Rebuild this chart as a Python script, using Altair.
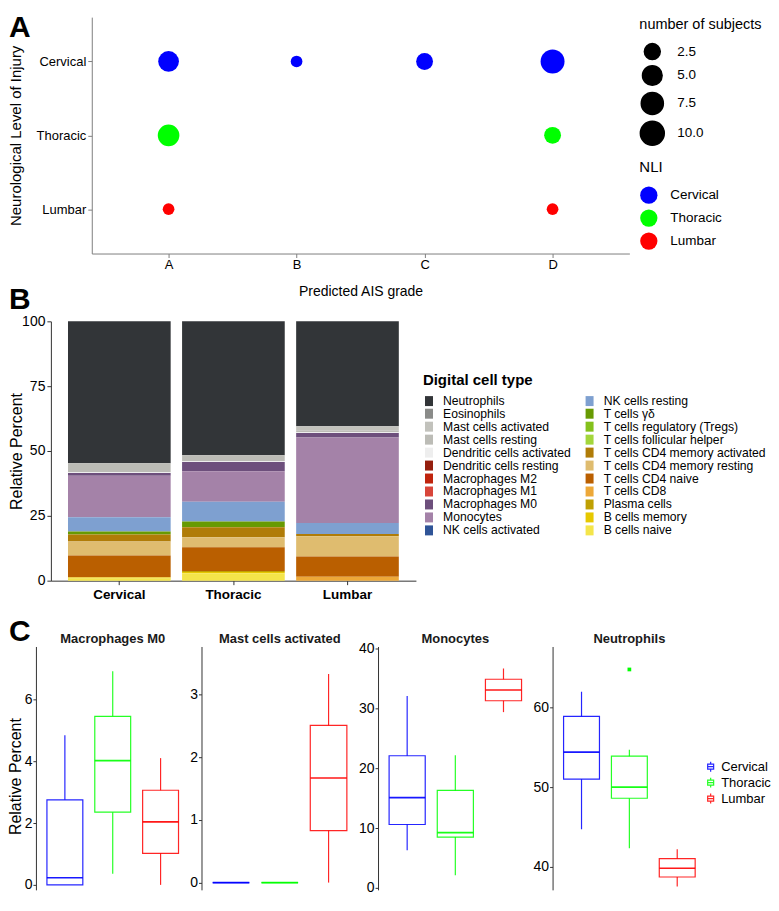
import altair as alt
import pandas as pd

FONT = "Liberation Sans"

# ---------------- Panel A : bubble chart ----------------
nli_levels = ["Cervical", "Thoracic", "Lumbar"]
nli_colors = ["#0000FF", "#00FF00", "#FF0000"]
ais_grades = ["A", "B", "C", "D"]
bubble_nli = ["Cervical", "Cervical", "Cervical", "Cervical", "Thoracic", "Thoracic", "Lumbar", "Lumbar"]
bubble_ais = ["A", "B", "C", "D", "A", "D", "A", "D"]
bubble_n = [6, 1, 3, 10, 7, 3, 1, 1]
size_breaks = [2.5, 5.0, 7.5, 10.0]

# ---------------- Panel B : stacked composition ----------------
cell_types = [
    "Neutrophils", "Eosinophils", "Mast cells activated", "Mast cells resting",
    "Dendritic cells activated", "Dendritic cells resting", "Macrophages M2",
    "Macrophages M1", "Macrophages M0", "Monocytes", "NK cells activated",
    "NK cells resting", "T cells γδ", "T cells regulatory (Tregs)",
    "T cells follicular helper", "T cells CD4 memory activated",
    "T cells CD4 memory resting", "T cells CD4 naive", "T cells CD8",
    "Plasma cells", "B cells memory", "B cells naive",
]
cell_colors = [
    "#323538", "#8a8b89", "#c2c2bc", "#bcbcb6", "#eeeeee", "#951f0e", "#c0240d",
    "#d8453a", "#6d4f7c", "#a482a8", "#2f5497", "#7ea0d0", "#679a02", "#84c11c",
    "#a3d63b", "#b07c07", "#dfbc6f", "#ba5f00", "#eda838", "#bfa003", "#e6c800",
    "#f4e54a",
]
pct_cervical = [54.7, 0, 0, 3.5, 0.3, 0, 0, 0, 1.0, 16.0, 0, 5.5, 1.2, 0, 0, 2.7, 5.4, 8.3, 0.2, 0, 0.4, 0.8]
pct_thoracic = [51.6, 0, 0, 2.3, 0.3, 0, 0, 0, 3.6, 11.8, 0, 7.6, 2.2, 0, 0, 3.9, 3.8, 9.2, 0, 0.4, 0.4, 2.9]
pct_lumbar = [40.5, 0, 1.7, 0.6, 0.3, 0, 0, 0, 1.7, 33.0, 0, 4.2, 0, 0, 0, 0.9, 7.8, 7.8, 1.5, 0, 0, 0]
pct_ticks = [0, 25, 50, 75, 100]

# ---------------- Panel C : box plots (Cervical, Thoracic, Lumbar) ----------------
box_groups = ["Cervical", "Thoracic", "Lumbar"]
m0_stats = {"lo": [0.0, 0.36, 0.0], "q1": [0.0, 2.35, 1.02], "med": [0.23, 4.02, 2.04],
            "q3": [2.75, 5.45, 3.06], "hi": [4.84, 6.91, 4.10]}
mast_stats = {"lo": [0.0, 0.0, 0.0], "q1": [0.0, 0.0, 0.83], "med": [0.0, 0.0, 1.67],
              "q3": [0.0, 0.0, 2.51], "hi": [0.0, 0.0, 3.33]}
mono_stats = {"lo": [6.3, 2.1, 29.4], "q1": [10.6, 8.5, 31.3], "med": [15.1, 9.25, 33.1],
              "q3": [22.1, 16.3, 34.9], "hi": [32.1, 22.2, 36.7]}
neut_stats = {"lo": [44.7, 42.3, 37.5], "q1": [51.0, 48.6, 38.7], "med": [54.4, 50.0, 39.8],
              "q3": [58.9, 53.9, 41.0], "hi": [62.0, 54.7, 42.2]}
neut_outlier_group = ["Thoracic"]
neut_outlier_value = [64.8]


def letter(ch, y):
    return alt.Chart(pd.DataFrame({"letter": [ch]})).mark_text(
        align="left", baseline="top", fontSize=30, fontWeight="bold", font=FONT, color="black"
    ).encode(text="letter:N", x=alt.value(-27), y=alt.value(y))


# invisible spacer that keeps a little room above the first letter
top_pad = alt.Chart(pd.DataFrame({"k": [0]})).mark_rule(strokeOpacity=0).encode(
    x=alt.value(-27), y=alt.value(-8), y2=alt.value(-7))

# ---------------- Row A ----------------
dfA = pd.DataFrame({"nli": bubble_nli, "ais": bubble_ais, "n": bubble_n})
bubbles = alt.Chart(dfA).mark_circle(opacity=1).encode(
    x=alt.X("ais:N", scale=alt.Scale(type="point", domain=ais_grades, padding=0.6, range=[56, 595]),
            axis=alt.Axis(title="Predicted AIS grade", labelAngle=0, labelFontSize=13,
                          titleFontSize=14, tickSize=4, labelPadding=1,
                          titleY=31, titleBaseline="top", titleX=325.5,
                          domainColor="#808080", tickColor="#808080")),
    y=alt.Y("nli:N", scale=alt.Scale(type="point", domain=nli_levels, padding=0.6),
            axis=alt.Axis(title="Neurological Level of Injury", labelFontSize=13,
                          titleFontSize=15, tickSize=4, labelPadding=2, offset=-56,
                          titleX=-68, titleY=118.5,
                          domainColor="#808080", tickColor="#808080")),
    size=alt.Size("n:Q", scale=alt.Scale(type="sqrt", domain=[1, 10], range=[137, 576], zero=False),
                  legend=alt.Legend(title="number of subjects", values=size_breaks, format=".1f",
                                    orient="none", legendX=605, legendY=1,
                                    symbolFillColor="black", symbolStrokeColor="black",
                                    symbolOpacity=1, titleFontSize=14.5, titleFontWeight="normal",
                                    labelFontSize=13.5, titlePadding=10, rowPadding=0,
                                    labelOffset=12)),
    color=alt.Color("nli:N", scale=alt.Scale(domain=nli_levels, range=nli_colors),
                    legend=alt.Legend(title="NLI", orient="none", legendX=605, legendY=143.5,
                                      symbolType="circle", symbolSize=300, symbolOpacity=1,
                                      titleFontSize=15, titleFontWeight="normal",
                                      labelFontSize=13.5, titlePadding=10.5, rowPadding=4,
                                      labelOffset=12)),
)
rowA = alt.layer(bubbles, top_pad, letter("A", -4)).properties(width=595, height=237)

# ---------------- Row B ----------------
recs = []
for region, vals in zip(nli_levels, [pct_cervical, pct_thoracic, pct_lumbar]):
    for i, (ct, v) in enumerate(zip(cell_types, vals)):
        recs.append({"region": region, "cell": ct, "pct": v, "rank": len(cell_types) - i})
dfB = pd.DataFrame(recs)

bars = alt.Chart(dfB).mark_bar().encode(
    x=alt.X("region:N", scale=alt.Scale(domain=nli_levels, paddingInner=0.1, paddingOuter=0.15,
                                        range=[15, 381]),
            axis=alt.Axis(title=None, labelAngle=0, labelFontWeight="bold", labelFontSize=13.5,
                          tickSize=4, labelPadding=3, domainColor="#333333", tickColor="#333333")),
    y=alt.Y("pct:Q", stack="zero", scale=alt.Scale(domain=[0, 100], nice=False),
            axis=alt.Axis(title="Relative Percent", values=pct_ticks, titleFontSize=16,
                          labelFontSize=14, tickSize=4, labelPadding=2, offset=-15,
                          titleX=-26, titleY=130,
                          domainColor="#333333", tickColor="#333333")),
    color=alt.Color("cell:N", scale=alt.Scale(domain=cell_types, range=cell_colors),
                    legend=alt.Legend(title="Digital cell type", orient="none", legendX=388,
                                      legendY=51.5, columns=2, symbolType="M-0.8,-1H0.8V1H-0.8Z",
                                      symbolSize=100, symbolStrokeWidth=0, labelFontSize=12.2,
                                      titleFontSize=15, titleFontWeight="bold", rowPadding=0,
                                      columnPadding=12, titlePadding=7,
                                      labelLimit=300, labelOffset=8)),
    order=alt.Order("rank:Q", sort="ascending"),
)
rowB = alt.layer(bars, letter("B", -36)).properties(width=381, height=260)


# ---------------- Row C ----------------
def box_panel(title, stats, domain, ticks, width, first=False, show_legend=False,
              out_groups=None, out_values=None):
    df = pd.DataFrame({"group": box_groups, **stats})
    x = alt.X("group:N", scale=alt.Scale(domain=box_groups, paddingInner=0.25, paddingOuter=0.23),
              axis=None)
    yscale = alt.Scale(domain=domain, nice=False, zero=False)
    yaxis = alt.Axis(values=ticks, title="Relative Percent" if first else None,
                     titleFontSize=16, labelFontSize=14, tickSize=3, labelPadding=1,
                     titleX=-12, titleY=130, domainColor="#333333", tickColor="#333333")
    legend = None
    if show_legend:
        legend = alt.Legend(title=None, orient="none", legendX=152, legendY=114,
                            symbolType="M-0.6,-0.5H0.6V0.5H-0.6Z M0,-0.5V-1 M0,0.5V1 M-0.6,0H0.6",
                            symbolSize=100, symbolStrokeWidth=1.2, symbolFillColor="transparent",
                            labelFontSize=13, rowPadding=1, labelOffset=4)
    color = alt.Color("group:N", scale=alt.Scale(domain=box_groups, range=nli_colors), legend=legend)
    base = alt.Chart(df)
    box = base.mark_bar(filled=False, strokeWidth=1.2, opacity=0.85).encode(
        x=x, y=alt.Y("q1:Q", scale=yscale, axis=yaxis), y2="q3:Q", color=color)
    lower = base.mark_rule(strokeWidth=1.2, opacity=0.85).encode(
        x=x, y=alt.Y("lo:Q", scale=yscale, axis=yaxis), y2="q1:Q", color=color)
    upper = base.mark_rule(strokeWidth=1.2, opacity=0.85).encode(
        x=x, y=alt.Y("q3:Q", scale=yscale, axis=yaxis), y2="hi:Q", color=color)
    med = base.mark_bar(filled=False, strokeWidth=1.7, opacity=0.9).encode(
        x=x, y=alt.Y("med:Q", scale=yscale, axis=yaxis), y2="med:Q", color=color)
    layers = [box, lower, upper, med]
    if out_groups:
        dfo = pd.DataFrame({"group": out_groups, "value": out_values})
        layers.append(alt.Chart(dfo).mark_point(filled=False, shape="square", size=3,
                                                 strokeWidth=2, opacity=1).encode(
            x=x, y=alt.Y("value:Q", scale=yscale, axis=yaxis), color=color))
    head = alt.Chart(pd.DataFrame({"panel": [title]})).mark_text(
        align="center", baseline="middle", fontSize=13, fontWeight="bold", font=FONT,
        color="#1a1a1a").encode(text="panel:N", x=alt.value(width / 2), y=alt.value(-7))
    layers.append(head)
    if first:
        layers.append(letter("C", -30))
    return alt.layer(*layers).properties(width=width, height=244)


p1 = box_panel("Macrophages M0", m0_stats, [-0.161, 7.71], [0, 2, 4, 6], 154, first=True)
p2 = box_panel("Mast cells activated", mast_stats, [-0.116, 3.769], [0, 1, 2, 3], 157)
p3 = box_panel("Monocytes", mono_stats, [-0.33, 40.38], [0, 10, 20, 30, 40], 155)
p4 = box_panel("Neutrophils", neut_stats, [37.08, 67.69], [40, 50, 60], 154, show_legend=True,
               out_groups=neut_outlier_group, out_values=neut_outlier_value)
rowC = alt.hconcat(p1, p2, p3, p4, spacing=0).resolve_scale(
    x="independent", y="independent", color="independent")

inner = alt.concat(rowA, rowB, columns=1, align="none", spacing=-13).resolve_scale(
    color="independent", size="independent")
chart = alt.concat(inner, rowC, columns=1, align="none", spacing=15).resolve_scale(
    color="independent", size="independent").properties(padding=0).configure(
    font=FONT).configure_view(stroke=None).configure_axis(
    grid=False, labelFont=FONT, titleFont=FONT, labelColor="black", titleColor="black",
    titleFontWeight="normal").configure_legend(labelFont=FONT, titleFont=FONT,
                                               labelColor="black", titleColor="black")

chart.save("out.html", embed_options={"renderer": "svg", "actions": False})
